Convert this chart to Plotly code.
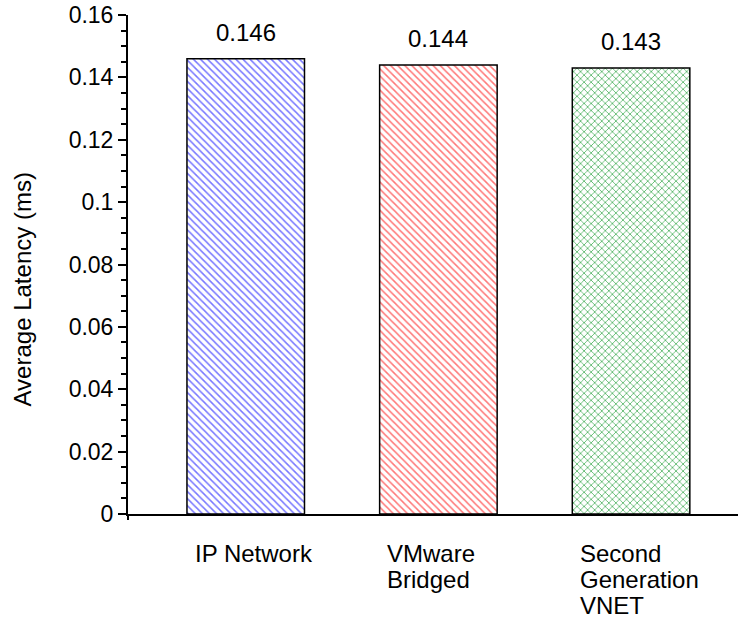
import plotly.graph_objects as go

# Data
categories = ["IP Network", "VMware\nBridged", "Second\nGeneration\nVNET"]
latency_ms = [0.146, 0.144, 0.143]
value_labels = ["0.146", "0.144", "0.143"]
y_ticks = [0, 0.02, 0.04, 0.06, 0.08, 0.1, 0.12, 0.14, 0.16]

pattern_colors = ["#7777ff", "#ff7777", "#55b466"]
pattern_shapes = ["\\", "\\", "x"]

FONT = "Liberation Sans, Arial, sans-serif"
positions = list(range(len(categories)))
bar_width = 0.61

fig = go.Figure()
for i, (cat, val) in enumerate(zip(categories, latency_ms)):
    fig.add_trace(go.Bar(
        x=[positions[i]], y=[val], width=bar_width,
        marker=dict(
            color="white",
            line=dict(color="black", width=1.5),
            pattern=dict(shape=pattern_shapes[i], fgcolor=pattern_colors[i],
                         bgcolor="white", size=5, solidity=0.3, fillmode="replace"),
        ),
        showlegend=False, hoverinfo="skip",
    ))

# value labels above bars
for i, (val, lab) in enumerate(zip(latency_ms, value_labels)):
    fig.add_annotation(x=positions[i], y=val, text=lab, showarrow=False,
                       yanchor="bottom", yshift=11,
                       font=dict(family=FONT, size=24, color="black"))

# left-aligned category labels under each bar, one line at a time
line_step = 26
for i, cat in enumerate(categories):
    for j, line in enumerate(cat.split("\n")):
        fig.add_annotation(x=positions[i] - bar_width / 2 + 0.03, y=0, xref="x", yref="paper",
                           text=line, showarrow=False, xanchor="left", yanchor="top",
                           yshift=-24 - j * line_step, align="left",
                           font=dict(family=FONT, size=24, color="black"))

# y-axis title
fig.add_annotation(x=0, y=0.45, xref="paper", yref="paper", text="Average Latency (ms)",
                   textangle=-90, showarrow=False, xanchor="center", yanchor="middle",
                   xshift=-106, font=dict(family=FONT, size=24, color="black"))

# small stub of the y-axis below the baseline
fig.add_shape(type="line", xref="paper", yref="paper", x0=0, x1=0, y0=0, y1=-0.012,
              line=dict(color="black", width=2))

fig.update_layout(
    width=741, height=624,
    margin=dict(l=128, r=3, t=15, b=110),
    paper_bgcolor="white", plot_bgcolor="white",
    font=dict(family=FONT, size=23, color="black"),
    xaxis=dict(range=[-0.611, 2.555], showticklabels=False, ticks="",
               showline=True, linecolor="black", linewidth=2, showgrid=False, zeroline=False),
    yaxis=dict(range=[0, 0.16], tickvals=y_ticks, ticks="outside", ticklen=8, tickwidth=1.5,
               tickcolor="black", showline=True, linecolor="black", linewidth=2,
               showgrid=False, zeroline=False,
               tickfont=dict(family=FONT, size=23),
               minor=dict(dtick=0.005, ticks="outside", ticklen=5, tickwidth=1.5, tickcolor="black")),
)

fig.write_html("out.html")
